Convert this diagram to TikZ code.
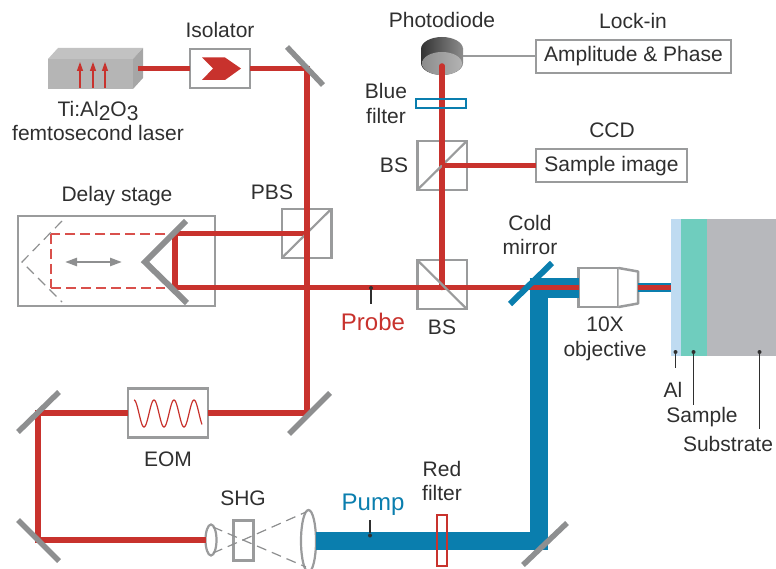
\documentclass[tikz,border=0pt]{standalone}
\usepackage{fontspec}
\setmainfont{Liberation Sans}
\usetikzlibrary{shapes.geometric,arrows.meta}
\definecolor{redb}{HTML}{C8322D}
\definecolor{redd}{HTML}{D9504C}
\definecolor{blueb}{HTML}{0A7EAE}
\definecolor{gr}{HTML}{9A9B9C}
\definecolor{mir}{HTML}{8E8F90}
\definecolor{txt}{HTML}{2F2F2F}
\definecolor{alc}{HTML}{BFDBF1}
\definecolor{samc}{HTML}{6FCDBE}
\definecolor{subc}{HTML}{B7B8BC}
\tikzset{
  lbl/.style={text=txt,font=\fontsize{21}{24.5}\selectfont,align=center,inner sep=0pt},
  biglbl/.style={font=\fontsize{24}{28}\selectfont,inner sep=0pt},
  boxn/.style={draw=gr,line width=2.5pt,inner sep=0pt,outer sep=0pt,fill=white,text=txt,font=\fontsize{21}{24.5}\selectfont},
  cube/.style={draw=gr,line width=2.5pt,inner sep=0pt,outer sep=0pt,minimum width=49.5pt,minimum height=49pt},
  redbeam/.style={draw=redb,line width=5.5pt},
  bluebeam/.style={draw=blueb,line width=18pt},
  mirror/.style={draw=mir,line width=5.5pt},
  diag/.style={draw=gr,line width=2.2pt},
  leader/.style={draw=txt,line width=1.1pt},
  ghost/.style={draw=mir,line width=1.2pt,dash pattern=on 10pt off 6pt},
  ghostred/.style={draw=redd,line width=2pt,dash pattern=on 10pt off 5pt},
  lens/.style={ellipse,draw=gr,line width=2.2pt,inner sep=0pt,outer sep=0pt,fill=white},
  tick/.style={circle,fill=txt,inner sep=0pt,minimum size=4pt},
}
\begin{document}
\begin{tikzpicture}[x=1pt,y=-1pt]
\useasboundingbox (0,0) rectangle (776,569);
% laser
\fill[fill=black!24] (48,59) -- (58,48) -- (143,48) -- (133,59) -- cycle;
\fill[fill=black!29] (48,59) rectangle (133,89);
\fill[fill=black!35] (133,59) -- (143,48) -- (143,78) -- (133,89) -- cycle;
\foreach \x in {80,93,105}
  \draw[redb,line width=1.3pt,-{Triangle[length=9pt,width=6pt]}] (\x,88) -- (\x,62);
\coordinate (laserout) at (138,68.5);
% coordinates
\coordinate (m1) at (307,68.5);
\coordinate (m2) at (307,413);
\coordinate (m3) at (38,413);
\coordinate (m4) at (38,540);
\coordinate (m5) at (538.5,541);
\coordinate (cm) at (538.5,288);
\coordinate (dtop) at (175,233.5);
\coordinate (dbot) at (175,287.5);
\coordinate (objout) at (638,287.5);
\coordinate (pd) at (442,66);
% delay stage, cubes (beams run over them)
\node[boxn,fill=none,minimum width=197pt,minimum height=90pt] (delay) at (116.5,261) {};
\node[cube] (pbs) at (306.5,233.5) {};
\node[cube] (bs1) at (442,284.5) {};
\node[cube] (bs2) at (442,165.5) {};
% boxes
\node[boxn,minimum width=60pt,minimum height=39pt] (iso) at (220,68.5) {};
\node[boxn,minimum width=80pt,minimum height=49pt] (eom) at (168,413) {};
\node[boxn,minimum width=195pt,minimum height=33pt,text height=15pt,text depth=4pt] (amp) at (633.5,56.5) {Amplitude \& Phase};
\node[boxn,minimum width=151pt,minimum height=33pt,text height=15pt,text depth=2pt] (ccd) at (611.5,165.5) {Sample image};
\node[boxn,minimum width=40pt,minimum height=39pt] (obj) at (598.5,287.5) {};
\draw[gr,line width=2.5pt,fill=white,line join=round] (obj.north east) -- (638,271.5) -- (638,303.5) -- (obj.south east);
% ghost
\draw[ghost] (62,221) -- (22,262) -- (62,302);
\coordinate (g1) at (165,234);
\coordinate (g2) at (51,234);
\coordinate (g3) at (51,287.5);
\coordinate (g4) at (165,287.5);
\draw[ghostred] (g1) -- (g2);
\draw[ghostred] (g2) -- (g3);
\draw[ghostred] (g3) -- (g4);
\draw[draw=mir,line width=2.4pt,{Triangle[length=12pt,width=8pt]}-{Triangle[length=12pt,width=8pt]}] (65,262) -- (122,262);
% sample stack
\node[fill=alc,inner sep=0,minimum width=10pt,minimum height=137pt] (al) at (676,287.5) {};
\node[fill=samc,inner sep=0,minimum width=26pt,minimum height=137pt] (sam) at (694,287.5) {};
\node[fill=subc,inner sep=0,minimum width=69pt,minimum height=137pt] (sub) at (741.5,287.5) {};
% photodiode
\shade[left color=black!80,right color=black!45] (421,49) rectangle (463,63);
\node[ellipse,inner sep=0,minimum width=42pt,minimum height=24pt,left color=black!80,right color=black!45] (dtopf) at (442,49) {};
\node[ellipse,inner sep=0,minimum width=42pt,minimum height=24pt,left color=black!80,right color=black!45] (dbotf) at (442,63) {};
\node[ellipse,inner sep=0,minimum width=40pt,minimum height=23pt,left color=black!45,right color=black!30] (diode) at (442,63.5) {};
% lenses and SHG
\node[boxn,fill=none,line width=2.2pt,minimum width=20pt,minimum height=40pt] (shg) at (243.5,540.5) {};
\coordinate (xf) at (243,540);
\node[lens,minimum width=11pt,minimum height=31pt] (l1) at (211,540) {};
\node[lens,minimum width=15pt,minimum height=62pt] (l2) at (308.5,541) {};
\draw[ghost] (213,527) -- (xf) -- (306,567);
\draw[ghost] (213,553) -- (xf) -- (306,512);
% blue beam
\draw[bluebeam] (l2.east) -- (m5) -- (cm);
\draw[draw=blueb,line width=19pt] (529.5,288) -- (obj.west |- cm);
\draw[draw=blueb,line width=9.5pt] (objout) -- (al.west);
% beams
\draw[redbeam] (laserout) -- (iso.west);
\draw[redbeam,line join=miter] (iso.east) -- (m1) -- (m2) -- (eom.east);
\draw[redbeam,line join=miter] (eom.west) -- (m3) -- (m4) -- (l1.west);
\draw[redbeam,line join=miter] (pbs.center) -- (dtop) -- (dbot) -- (obj.west);
\draw[redbeam,line cap=round] (bs1.center |- dbot) -- (pd);
\draw[redbeam] (bs2.center) -- (ccd.west);
\draw[draw=redb,line width=4pt] (objout) -- (al.west);
\draw[draw=gr,line width=2pt] (463,56.5) coordinate (dw) -- (amp.west);
% diagonals
\draw[diag] (pbs.south west) -- (pbs.north east);
\draw[diag] (bs2.south west) -- (bs2.north east);
\draw[diag] (bs1.north west) -- (bs1.south east);
% red over the upper cubes' diagonals
\draw[redbeam] (m1) -- (m2);
\draw[redbeam] (bs2.center) -- (pd);
\draw[redbeam] (bs2.center) -- (ccd.west);
% blue filter, red filter
\node[draw=blueb,line width=2pt,inner sep=0,minimum width=50pt,minimum height=9pt] (bf) at (441,104) {};
\node[draw=redb,line width=2.5pt,inner sep=0,minimum width=10pt,minimum height=51pt] (rf) at (442,540.5) {};
% mirrors
\draw[mirror] (287,47) -- (323,85);
\draw[mirror] (289,434) -- (330,393);
\draw[mirror] (18,432) -- (59,392);
\draw[mirror] (18,520) -- (59,561);
\draw[mirror] (523,565) -- (567,523);
\draw[draw=blueb,line width=6pt] (510,304) -- (552,263);
\draw[draw=mir,line width=6pt,line join=miter] (186,221) -- (145,262) -- (187,303);
% isolator chevron, wave
\fill[redb] (202,57.5) -- (225,57.5) -- (241,68.5) -- (225,80) -- (202,80) -- (213,68.5) -- cycle;
\draw[redb,line width=1.2pt,smooth,samples=120,domain=134:202] plot (\x,{413.5-13.5*cos(18*(\x-134))});
% leaders
\node[tick] (t1) at (371,288) {};
\coordinate (t1e) at (371,304);
\draw[leader] (t1) -- (t1e);
\node[tick] (t2) at (370,535.5) {};
\coordinate (t2e) at (370,520);
\draw[leader] (t2) -- (t2e);
\node[tick] (t3) at (675.5,352) {};
\coordinate (t3e) at (675.5,368);
\draw[leader] (t3) -- (t3e);
\node[tick] (t4) at (693.5,352) {};
\coordinate (t4e) at (693.5,405);
\draw[leader] (t4) -- (t4e);
\node[tick] (t5) at (759.5,352) {};
\coordinate (t5e) at (759.5,429);
\draw[leader] (t5) -- (t5e);
% labels
\node[lbl] (tiso) at (220,30) {Isolator};
\node[lbl] (tlaser) at (98,121) {Ti:Al\raisebox{-4pt}{2}O\raisebox{-4pt}{3}\\femtosecond laser};
\node[lbl] (tdelay) at (117,196) {Delay stage};
\node[lbl] (tpbs) at (272,192) {PBS};
\node[lbl] (tphoto) at (442,20) {Photodiode};
\node[lbl] (tlock) at (633,21) {Lock-in};
\node[lbl] (tblue) at (386,103.5) {Blue\\filter};
\node[lbl] (tbs2) at (394,165) {BS};
\node[lbl] (tccd) at (612,130) {CCD};
\node[lbl] (tcold) at (530,235) {Cold\\mirror};
\node[lbl,biglbl,text=redb] (tprobe) at (373,322) {Probe};
\node[lbl] (tbs1) at (442,327) {BS};
\node[lbl] (tobj) at (605,339) {10X\\objective};
\node[lbl] (tal) at (673,390) {Al};
\node[lbl] (tsam) at (702,417) {Sample};
\node[lbl] (tsub) at (728,444) {Substrate};
\node[lbl] (teom) at (168,459) {EOM};
\node[lbl] (tshg) at (243,498) {SHG};
\node[lbl,biglbl,text=blueb] (tpump) at (373,505) {Pump};
\node[lbl] (tred) at (442,481) {Red\\filter};
\end{tikzpicture}
\end{document}
